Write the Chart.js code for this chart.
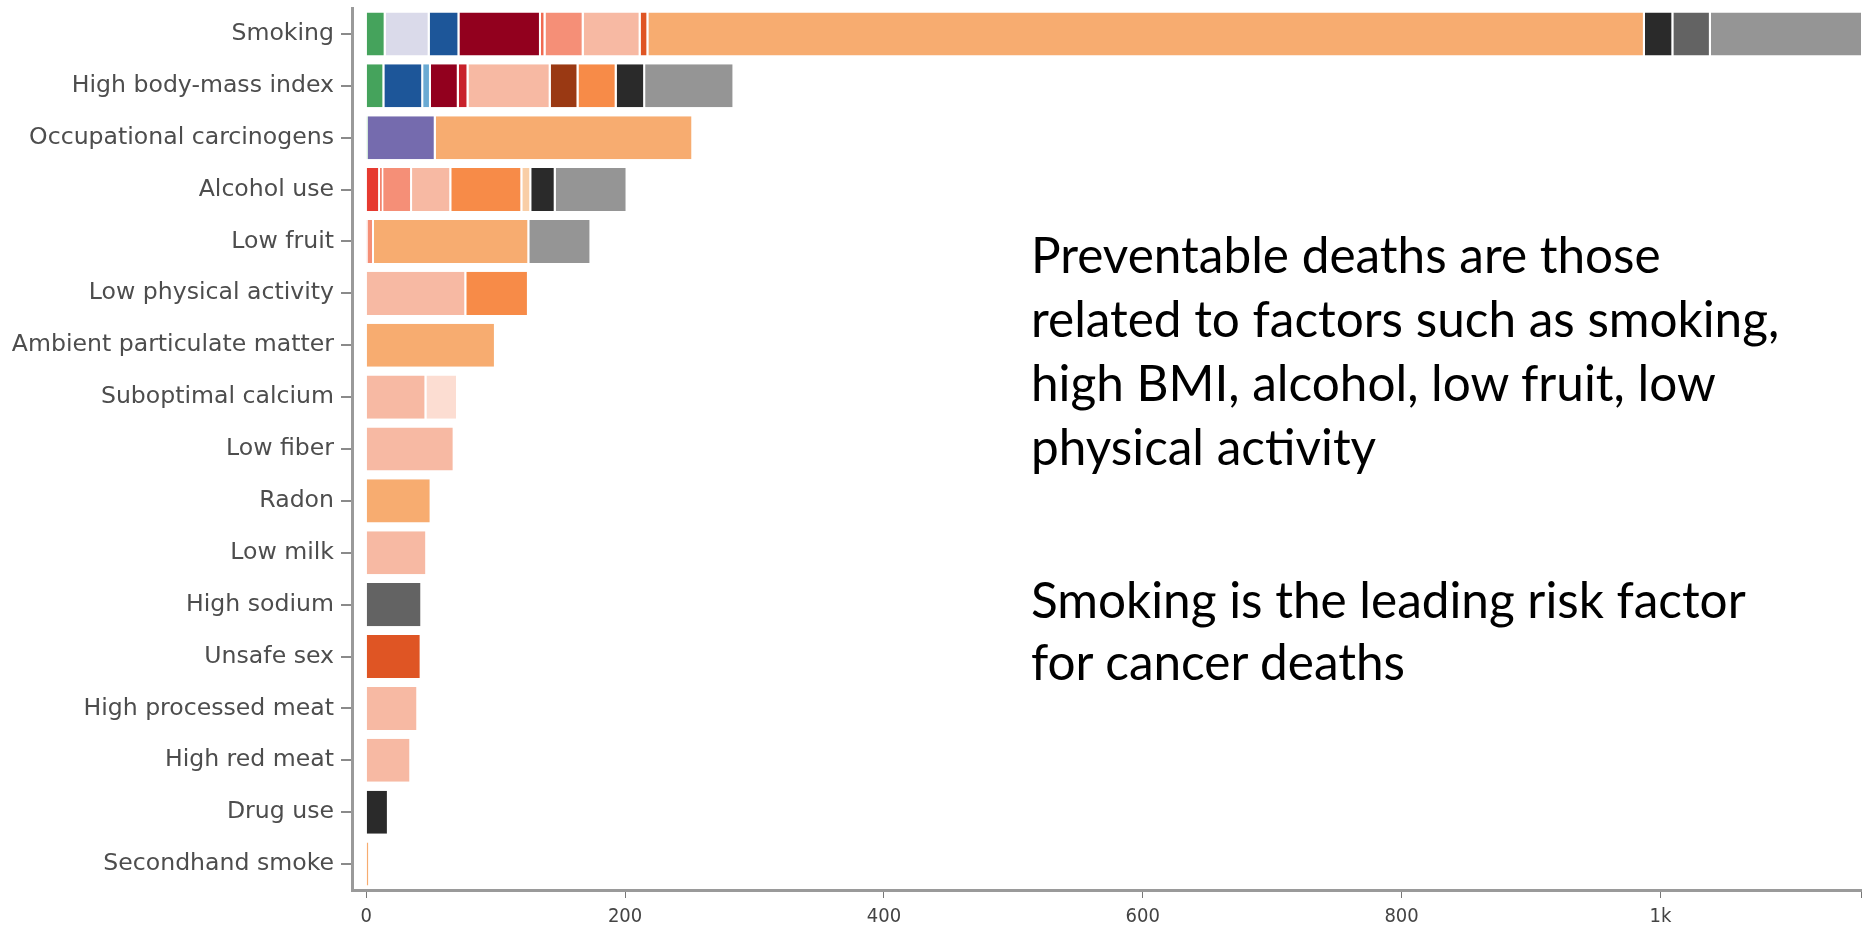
<!DOCTYPE html>
<html>
<head>
<meta charset="utf-8">
<script src="https://cdn.jsdelivr.net/npm/chart.js@4"></script>
<style>
  html, body { margin: 0; padding: 0; background: #fff; }
  #wrap { position: relative; width: 1864px; height: 934px; }
  .note {
    position: absolute;
    left: 1031px;
    font-family: Lato, "Open Sans", sans-serif;
    font-size: 49.5px;
    color: #000;
    white-space: nowrap;
  }
</style>
</head>
<body>
<div id="wrap">
  <canvas id="chart" width="1864" height="934"></canvas>
  <div class="note" style="top:222px; line-height:64px">Preventable deaths are those<br>related to factors such as smoking,<br>high BMI, alcohol, low fruit, low<br>physical activity</div>
  <div class="note" style="top:568px; line-height:62px">Smoking is the leading risk factor<br>for cancer deaths</div>
</div>
<script>
// risk factors, top to bottom
const categories = [
  'Smoking', 'High body-mass index', 'Occupational carcinogens', 'Alcohol use',
  'Low fruit', 'Low physical activity', 'Ambient particulate matter',
  'Suboptimal calcium', 'Low fiber', 'Radon', 'Low milk', 'High sodium',
  'Unsafe sex', 'High processed meat', 'High red meat', 'Drug use', 'Secondhand smoke'
];

const xTicks = [0, 200, 400, 600, 800, 1000];
const xTickLabels = ['0', '200', '400', '600', '800', '1k'];

// stacked segments (one array per colour group)
const green        = [15, 14, 1.2, 0, 0, 0, 0, 0, 0, 0, 0, 0, 0, 0, 0, 0, 0];
const lavender     = [34, 0, 0, 0, 0, 0, 0, 0, 0, 0, 0, 0, 0, 0, 0, 0, 0];
const purple       = [0, 0, 52.5, 0, 0, 0, 0, 0, 0, 0, 0, 0, 0, 0, 0, 0, 0];
const blue         = [23, 30, 0, 0, 0, 0, 0, 0, 0, 0, 0, 0, 0, 0, 0, 0, 0];
const lightBlue    = [0, 6, 0, 0, 0, 0, 0, 0, 0, 0, 0, 0, 0, 0, 0, 0, 0];
const darkRed      = [63, 21.5, 0, 0, 0, 0, 0, 0, 0, 0, 0, 0, 0, 0, 0, 0, 0];
const crimson      = [0, 7.5, 0, 0, 0, 0, 0, 0, 0, 0, 0, 0, 0, 0, 0, 0, 0];
const red          = [0, 0, 0, 10.7, 0, 0, 0, 0, 0, 0, 0, 0, 0, 0, 0, 0, 0];
const thinRed      = [3.5, 0, 0, 2.4, 1, 0, 0, 0, 0, 0, 0, 0, 0, 0, 0, 0, 0];
const salmon       = [29.5, 0, 0, 22.3, 5, 0, 0, 0, 0, 0, 0, 0, 0, 0, 0, 0, 0];
const lightSalmon  = [44, 63.5, 0, 30.3, 0, 77.3, 0, 46.5, 68.3, 0, 47.1, 0, 0, 40.2, 34.8, 0, 0];
const paleSalmon   = [0, 0, 0, 0, 0, 0, 0, 24.4, 0, 0, 0, 0, 0, 0, 0, 0, 0];
const brown        = [0, 21.5, 0, 0, 0, 0, 0, 0, 0, 0, 0, 0, 0, 0, 0, 0, 0];
const brightOrange = [0, 29.5, 0, 54.9, 0, 48.4, 0, 0, 0, 0, 0, 0, 0, 0, 0, 0, 0];
const peach        = [0, 0, 0, 6.9, 0, 0, 0, 0, 0, 0, 0, 0, 0, 0, 0, 0, 0];
const orangeRed    = [6, 0, 0, 0, 0, 0, 0, 0, 0, 0, 0, 0, 42.8, 0, 0, 0, 0];
const orange       = [770, 0, 199, 0, 120, 0, 100.2, 0, 0, 50.5, 0, 0, 0, 0, 0, 0, 2.5];
const nearBlack    = [22, 22, 0, 18.9, 0, 0, 0, 0, 0, 0, 0, 0, 0, 0, 0, 17.5, 0];
const darkGray     = [29, 0, 0, 0, 0, 0, 0, 0, 0, 0, 0, 43.3, 0, 0, 0, 0, 0];
const gray         = [162, 69, 0, 55.5, 48, 0, 0, 0, 0, 0, 0, 0, 0, 0, 0, 0, 0];

const series = [
  [green, '#45a35c'], [lavender, '#dadaea'], [purple, '#756bae'], [blue, '#1d5699'],
  [lightBlue, '#6aaad3'], [darkRed, '#92001e'], [crimson, '#c8202a'], [red, '#e63a30'],
  [thinRed, '#f06a50'], [salmon, '#f58f77'], [lightSalmon, '#f7b9a3'], [paleSalmon, '#fcddd2'],
  [brown, '#9a3913'], [brightOrange, '#f78b48'], [peach, '#f9cea6'], [orangeRed, '#df5524'],
  [orange, '#f7ac70'], [nearBlack, '#2a2a2a'], [darkGray, '#636363'], [gray, '#959595']
];

const datasets = series.map(([data, color], i) => ({
  label: 'group ' + (i + 1),
  data: data,
  backgroundColor: color,
  borderColor: '#ffffff',
  borderWidth: { right: 2 },
  borderSkipped: false,
  categoryPercentage: 1,
  barPercentage: 0.83
}));

new Chart(document.getElementById('chart'), {
  type: 'bar',
  data: { labels: categories, datasets: datasets },
  options: {
    indexAxis: 'y',
    responsive: false,
    animation: false,
    devicePixelRatio: 1,
    layout: { padding: { top: 8, right: 3, left: 0, bottom: 0 } },
    plugins: {
      legend: { display: false },
      tooltip: { enabled: false }
    },
    scales: {
      x: {
        type: 'linear',
        stacked: true,
        min: -11,
        max: 1155,
        afterBuildTicks: (scale) => {
          scale.ticks = xTicks.map(v => ({ value: v }));
          scale.ticks.push({ value: 1155 });
        },
        afterFit: (scale) => {
          scale.height = 44;
          scale.paddingLeft = 0;
          scale.paddingRight = 0;
        },
        border: { display: true, color: '#9a9a9a', width: 3 },
        grid: { drawOnChartArea: false, drawTicks: true, tickLength: 8, color: '#777', lineWidth: 1 },
        ticks: {
          color: '#444',
          padding: 7,
          maxRotation: 0,
          autoSkip: false,
          font: { family: '"Liberation Sans Narrow", "DejaVu Sans Condensed", sans-serif', size: 20 },
          callback: (v) => {
            const i = xTicks.indexOf(v);
            return i >= 0 ? xTickLabels[i] : '';
          }
        }
      },
      y: {
        stacked: true,
        afterFit: (scale) => {
          scale.width = 352;
          scale.paddingTop = 0;
          scale.paddingBottom = 0;
        },
        border: { display: true, color: '#9a9a9a', width: 3 },
        grid: { offset: false, drawOnChartArea: false, tickLength: 11, color: '#8a8a8a', lineWidth: 2 },
        ticks: {
          color: '#4d4d4d',
          padding: 7,
          autoSkip: false,
          font: { family: '"DejaVu Sans", Verdana, sans-serif', size: 23.6 }
        }
      }
    }
  }
});
</script>
</body>
</html>
